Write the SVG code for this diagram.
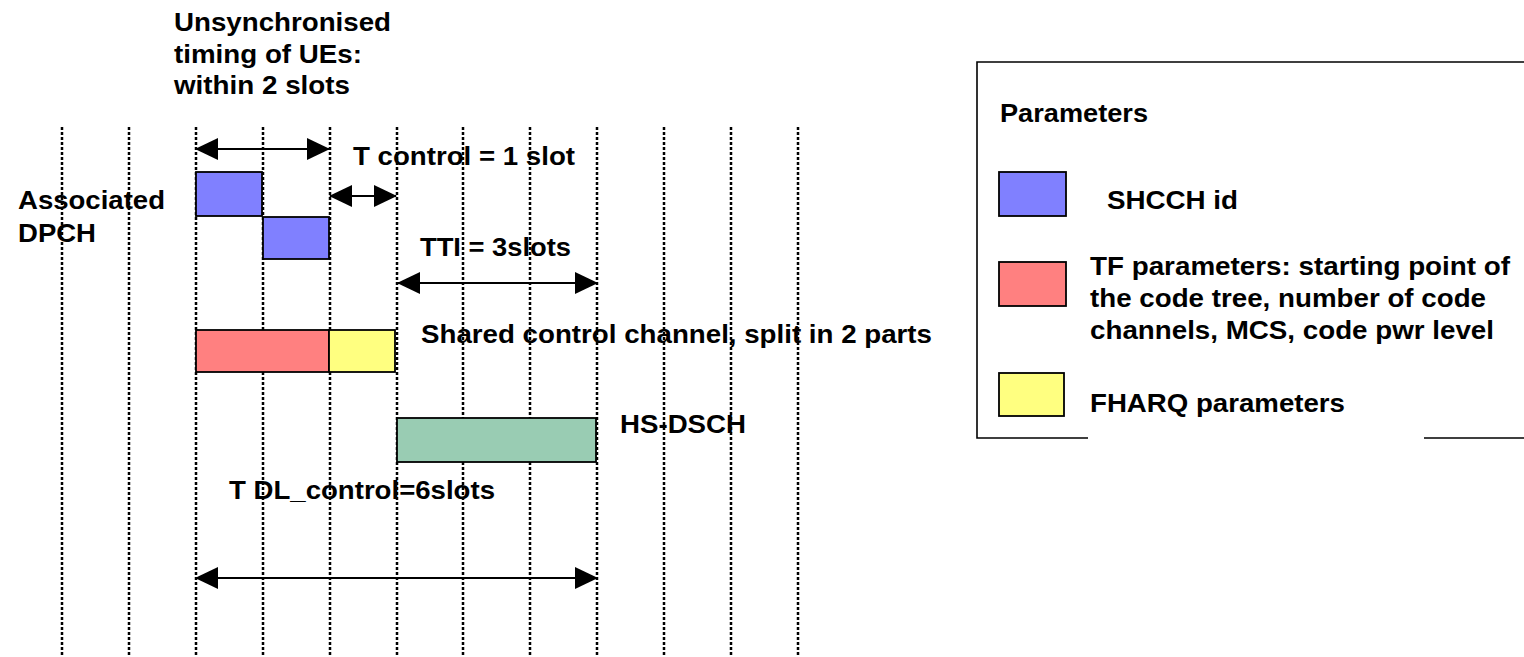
<svg xmlns="http://www.w3.org/2000/svg" width="1524" height="657" viewBox="0 0 1524 657">
<style>
text{font-family:"Liberation Sans",Arial,sans-serif;font-weight:bold;font-size:26px;fill:#000}
.grid line{stroke:#000;stroke-width:2.5;stroke-dasharray:3 2}
.box{stroke:#000;stroke-width:1.8}
.arr{stroke:#000;stroke-width:2.2;fill:none;marker-start:url(#ah);marker-end:url(#ah)}
.border{stroke:#000;stroke-width:1.6;fill:none}
</style>
<defs>
<marker id="ah" markerUnits="userSpaceOnUse" markerWidth="23" markerHeight="22" viewBox="0 0 23 22" refX="22" refY="11" orient="auto-start-reverse">
<path d="M0,0 L23,11 L0,22 z" fill="#000"/>
</marker>
</defs>
<rect width="1524" height="657" fill="#fff"/>
<g class="grid" id="grid">
<line x1="62" y1="127" x2="62" y2="657"/>
<line x1="129" y1="127" x2="129" y2="657"/>
<line x1="196" y1="127" x2="196" y2="657"/>
<line x1="263" y1="127" x2="263" y2="657"/>
<line x1="330" y1="127" x2="330" y2="657"/>
<line x1="397" y1="127" x2="397" y2="657"/>
<line x1="463" y1="127" x2="463" y2="657"/>
<line x1="530" y1="127" x2="530" y2="657"/>
<line x1="597" y1="127" x2="597" y2="657"/>
<line x1="664" y1="127" x2="664" y2="657"/>
<line x1="731" y1="127" x2="731" y2="657"/>
<line x1="798" y1="127" x2="798" y2="657"/>
</g>
<g id="title">
<text x="174" y="31" textLength="217" lengthAdjust="spacingAndGlyphs">Unsynchronised</text>
<text x="174" y="63" textLength="188" lengthAdjust="spacingAndGlyphs">timing of UEs:</text>
<text x="174" y="94" textLength="176" lengthAdjust="spacingAndGlyphs">within 2 slots</text>
</g>
<g id="dpch-label">
<text x="18" y="209" textLength="147" lengthAdjust="spacingAndGlyphs">Associated</text>
<text x="18" y="242" textLength="78" lengthAdjust="spacingAndGlyphs">DPCH</text>
</g>
<g id="dpch1"><rect class="box" x="196" y="172" width="66" height="44" fill="#8080FF"/></g>
<g id="dpch2"><rect class="box" x="263" y="217" width="66" height="42" fill="#8080FF"/></g>
<g id="tf"><rect class="box" x="196" y="330" width="133" height="42" fill="#FF8080"/></g>
<g id="fharq"><rect class="box" x="329" y="330" width="66" height="42" fill="#FFFF80"/></g>
<g id="hsdsch"><rect class="box" x="397" y="418" width="199" height="44" fill="#99CCB3"/></g>
<g id="connectors">
<line class="arr" x1="196" y1="149" x2="329" y2="149"/>
<line class="arr" x1="330" y1="196" x2="396" y2="196"/>
<line class="arr" x1="398" y1="283" x2="597" y2="283"/>
<line class="arr" x1="196" y1="578" x2="597" y2="578"/>
</g>
<g id="labels">
<text x="353" y="165" textLength="222" lengthAdjust="spacingAndGlyphs">T control = 1 slot</text>
<text x="420" y="256" textLength="151" lengthAdjust="spacingAndGlyphs">TTI = 3slots</text>
<text x="421" y="343" textLength="511" lengthAdjust="spacingAndGlyphs">Shared control channel, split in 2 parts</text>
<text x="620" y="433" textLength="126" lengthAdjust="spacingAndGlyphs">HS-DSCH</text>
<text x="229" y="499" textLength="266" lengthAdjust="spacingAndGlyphs">T DL_control=6slots</text>
</g>
<g id="legend">
<path class="border" d="M1524,62 H977 V438 H1088 M1424,438 H1524"/>
<text x="1000" y="122" textLength="148" lengthAdjust="spacingAndGlyphs">Parameters</text>
<rect class="box" x="999" y="172" width="67" height="44" fill="#8080FF"/>
<text x="1107" y="209" textLength="131" lengthAdjust="spacingAndGlyphs">SHCCH id</text>
<rect class="box" x="999" y="262" width="67" height="44" fill="#FF8080"/>
<text x="1090" y="275" textLength="420" lengthAdjust="spacingAndGlyphs">TF parameters: starting point of</text>
<text x="1090" y="307" textLength="396" lengthAdjust="spacingAndGlyphs">the code tree, number of code</text>
<text x="1090" y="339" textLength="404" lengthAdjust="spacingAndGlyphs">channels, MCS, code pwr level</text>
<rect class="box" x="999" y="373" width="65" height="43" fill="#FFFF80"/>
<text x="1090" y="412" textLength="255" lengthAdjust="spacingAndGlyphs">FHARQ parameters</text>
</g>
</svg>
